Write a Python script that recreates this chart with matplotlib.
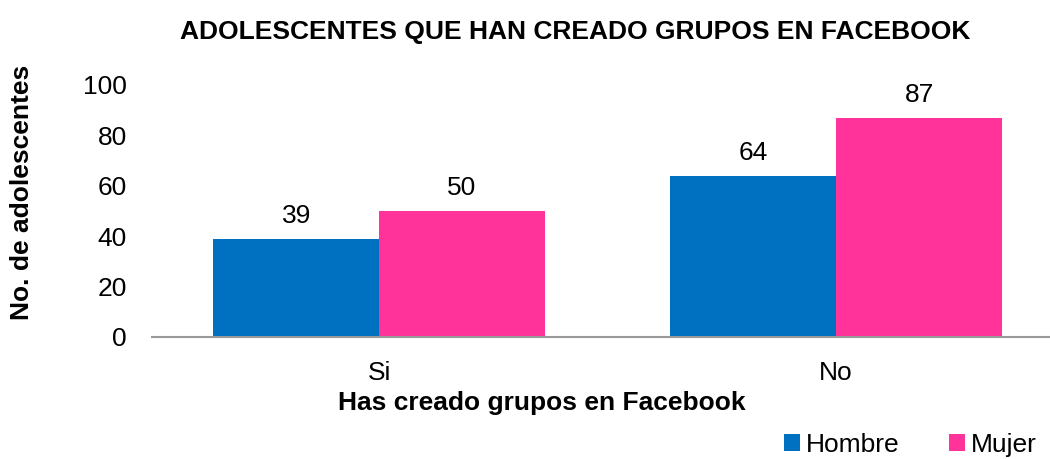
import numpy as np
import matplotlib.pyplot as plt

categorias = ['Si', 'No']
hombre = [39, 64]
mujer = [50, 87]
series = ['Hombre', 'Mujer']
colores = ['#0070C0', '#FF3399']

plt.rcParams['font.family'] = ['Liberation Sans', 'DejaVu Sans']

fig = plt.figure(figsize=(10.5, 4.59), dpi=100)
ax = fig.add_axes([152 / 1050, 122 / 459, 898 / 1050, 252 / 459])

x = np.arange(len(categorias))
w = 0.363
b1 = ax.bar(x - w / 2, hombre, w, color=colores[0], label=series[0])
b2 = ax.bar(x + w / 2, mujer, w, color=colores[1], label=series[1])

for barras in (b1, b2):
    for r in barras:
        ax.annotate(f'{r.get_height():.0f}', (r.get_x() + r.get_width() / 2, r.get_height()),
                    xytext=(0, 8), textcoords='offset points', ha='center', va='bottom', fontsize=19)

ax.set_xlim(-0.497, 1.468)
ax.set_ylim(0, 100)
ax.set_yticks(range(0, 101, 20))
ax.set_xticks(x)
ax.set_xticklabels(categorias)
ax.tick_params(axis='both', length=0, labelsize=19)
ax.tick_params(axis='y', pad=18)
ax.tick_params(axis='x', pad=17)
for s in ['top', 'right', 'left']:
    ax.spines[s].set_visible(False)
ax.spines['bottom'].set_color('#999999')
ax.spines['bottom'].set_linewidth(1.5)

fig.text(542 / 1050, 1 - 403 / 459, 'Has creado grupos en Facebook', ha='center', va='center',
         fontsize=19, fontweight='bold')
fig.text(22 / 1050, 1 - 192 / 459, 'No. de adolescentes', rotation=90, ha='center', va='center',
         fontsize=19, fontweight='bold')
fig.text(575 / 1050, 1 - 32 / 459, 'ADOLESCENTES QUE HAN CREADO GRUPOS EN FACEBOOK', ha='center',
         va='center', fontsize=19, fontweight='bold')

fig.legend(loc='center right', bbox_to_anchor=(0.997, 1 - 445 / 459), ncol=2, frameon=False,
           fontsize=19, handlelength=0.6, handleheight=0.6, handletextpad=0.2, columnspacing=1.9,
           borderaxespad=0.0)

fig.savefig('out.png', dpi=100)
